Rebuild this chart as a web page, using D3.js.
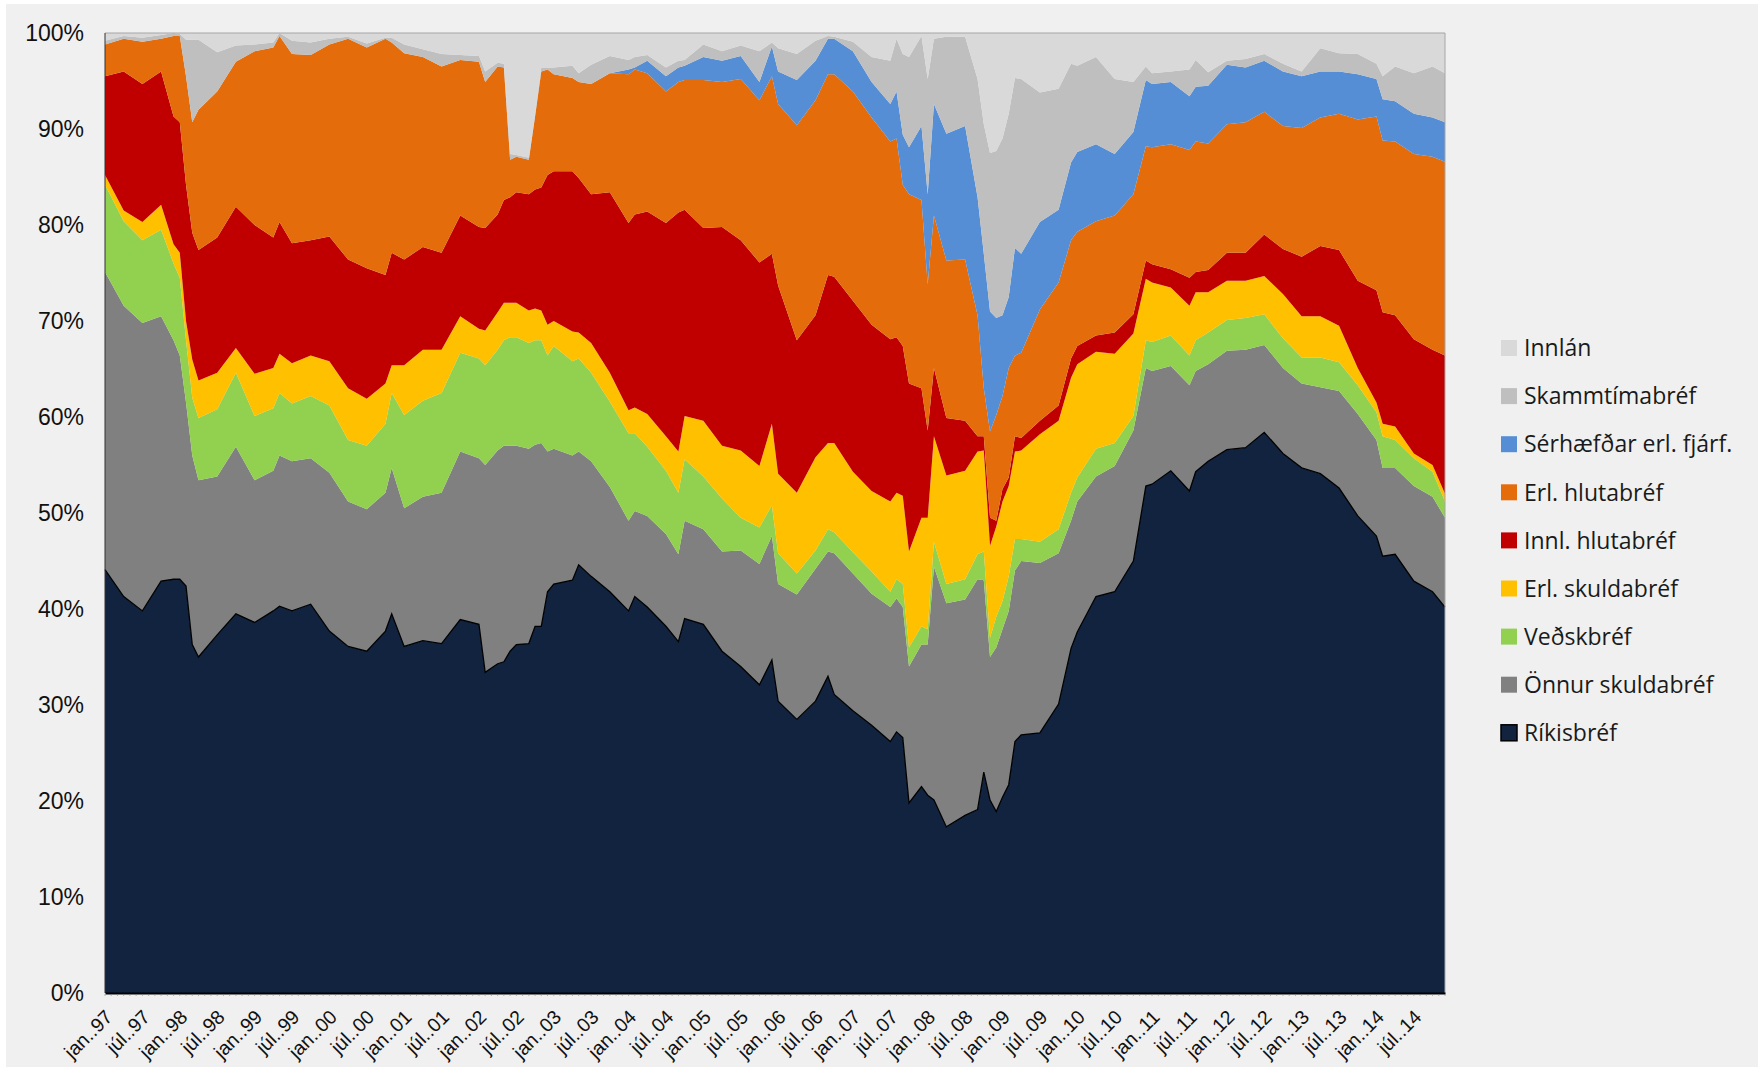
<!DOCTYPE html>
<html>
<head>
<meta charset="utf-8">
<script src="https://cdn.jsdelivr.net/npm/d3@7"></script>
<style>
  body { margin: 0; background: #fff; }
</style>
</head>
<body>
<svg id="chart" width="1762" height="1072"></svg>
<script>
// month of each reading (year-month)
var months = ["1997-01","1997-04","1997-07","1997-10","1997-12","1998-01","1998-02","1998-03","1998-04","1998-07",
  "1998-10","1999-01","1999-04","1999-05","1999-07","1999-10","2000-01","2000-04","2000-07","2000-10",
  "2000-11","2001-01","2001-04","2001-07","2001-10","2002-01","2002-02","2002-04","2002-05","2002-06",
  "2002-07","2002-09","2002-10","2002-11","2002-12","2003-01","2003-04","2003-05","2003-07","2003-10",
  "2004-01","2004-02","2004-04","2004-07","2004-09","2004-10","2005-01","2005-04","2005-07","2005-10",
  "2005-12","2006-01","2006-04","2006-07","2006-09","2006-10","2007-01","2007-04","2007-07","2007-08",
  "2007-09","2007-10","2007-12","2008-01","2008-02","2008-04","2008-07","2008-09","2008-10","2008-11",
  "2008-12","2009-01","2009-02","2009-03","2009-04","2009-07","2009-10","2009-12","2010-01","2010-04",
  "2010-07","2010-10","2010-12","2011-01","2011-04","2011-07","2011-08","2011-10","2012-01","2012-04",
  "2012-07","2012-10","2013-01","2013-04","2013-07","2013-10","2014-01","2014-02","2014-04","2014-07",
  "2014-10","2014-12"];

// shares in % (bottom to top of the stack)
var rikisbref = [44.1,41.3,39.8,42.9,43.1,43.1,42.4,36.3,35.0,37.3,
  39.5,38.6,39.8,40.3,39.8,40.5,37.7,36.1,35.6,37.7,
  39.5,36.1,36.7,36.4,38.9,38.4,33.4,34.3,34.5,35.6,
  36.3,36.4,38.2,38.2,41.8,42.6,43.0,44.6,43.4,41.8,
  39.8,41.3,40.2,38.2,36.6,39.0,38.4,35.6,34.0,32.1,
  34.7,30.4,28.5,30.4,33.0,31.1,29.4,27.9,26.2,27.2,
  26.6,19.8,21.5,20.6,20.1,17.3,18.5,19.1,23.0,20.1,
  18.9,20.4,21.7,26.2,26.9,27.1,30.1,35.9,37.6,41.3,
  41.8,45.0,52.8,53.0,54.4,52.3,54.3,55.4,56.6,56.8,
  58.4,56.2,54.7,54.1,52.6,49.7,47.6,45.5,45.7,42.9,
  41.8,40.2];
var onnurSkuldabref = [31.0,30.3,30.0,27.6,24.9,23.3,19.1,19.7,18.4,16.5,
  17.4,14.8,14.6,15.7,15.6,15.2,16.5,15.1,14.8,14.4,
  15.2,14.4,15.0,15.7,17.5,17.3,21.6,22.2,22.5,21.4,
  20.7,20.3,18.9,19.1,14.6,14.1,13.0,11.8,12.0,10.9,
  9.4,8.9,9.5,9.6,9.1,10.2,9.9,10.4,12.1,12.6,
  12.9,12.2,13.0,13.8,13.0,14.7,14.3,13.7,14.0,13.9,
  13.6,14.2,14.8,15.7,24.3,23.3,22.5,24.0,20.0,14.9,
  17.1,17.5,18.1,17.8,18.1,17.7,15.7,13.3,13.6,12.5,
  13.1,13.6,12.3,11.8,10.9,11.0,10.5,10.1,10.3,10.2,
  9.1,8.9,8.8,9.0,10.1,10.6,10.0,9.2,9.0,9.9,
  9.9,9.3];
var vedskbref = [9.1,8.8,8.6,9.0,8.0,8.1,6.5,6.0,6.5,7.0,
  7.7,6.7,6.5,6.5,6.0,6.5,7.0,6.4,6.6,7.2,
  7.8,9.7,10.0,10.4,10.3,10.4,10.4,10.5,11.0,11.3,
  11.3,11.0,10.9,10.7,10.0,10.7,9.8,9.7,9.2,8.9,
  9.1,8.1,7.2,6.6,6.4,6.4,5.5,5.5,3.4,3.8,
  3.2,3.2,2.2,1.9,2.3,2.2,2.2,2.3,1.6,2.0,
  2.4,2.0,1.9,1.6,2.6,2.0,2.1,2.6,3.0,2.0,
  3.2,2.9,3.6,3.3,2.3,2.2,2.5,2.9,2.5,2.9,
  2.4,1.5,2.9,3.0,3.2,3.1,3.2,3.3,3.2,3.3,
  3.2,3.1,2.7,3.1,3.0,3.0,2.9,3.3,2.9,2.9,
  2.6,1.7];
var erlSkuldabref = [1.0,1.1,1.9,2.6,2.0,2.6,2.0,4.0,3.9,3.8,
  2.6,4.4,4.2,4.1,4.2,4.2,4.6,5.4,4.9,4.2,
  2.9,5.2,5.3,4.5,3.8,3.1,3.6,3.9,3.9,3.6,
  3.6,3.4,3.3,3.1,3.2,2.6,3.1,2.7,3.1,3.0,
  2.4,2.7,3.4,3.6,4.3,4.5,5.8,5.5,7.0,6.4,
  8.5,8.3,8.4,9.7,9.0,9.3,8.4,8.4,9.4,9.0,
  9.2,10.0,11.3,11.6,11.0,11.3,11.3,10.7,10.5,9.6,
  9.4,10.4,9.4,9.1,9.2,11.2,11.3,12.0,11.8,10.1,
  9.3,8.6,6.4,6.2,5.0,5.2,5.0,4.2,4.1,3.9,
  4.0,4.6,4.3,4.3,3.8,1.8,1.0,1.3,1.4,0.5,
  0.7,0.8];
var innlHlutabref = [10.3,14.5,14.4,13.9,13.3,13.6,14.2,13.2,13.6,14.1,
  14.7,15.5,13.6,13.7,12.5,12.0,13.0,13.4,13.6,11.3,
  11.7,11.0,10.7,10.1,10.5,10.6,10.7,10.2,10.7,11.0,
  11.5,12.1,12.4,12.8,15.6,15.6,16.7,16.1,15.5,18.8,
  19.5,20.1,21.1,22.2,24.9,21.5,20.1,22.8,21.9,21.2,
  17.7,19.6,15.9,14.8,17.5,17.3,17.8,17.3,16.9,16.2,
  15.6,17.5,13.5,9.1,7.1,6.0,5.2,1.6,1.5,2.9,
  0.6,1.3,0.9,1.6,1.3,1.4,1.6,2.0,1.9,1.7,
  2.2,2.0,1.9,1.9,1.9,2.9,2.1,2.3,2.9,2.9,
  4.3,4.7,6.2,7.3,7.9,9.1,11.7,11.6,11.6,11.9,
  12.0,14.4];
var erlHlutabref = [3.3,3.4,4.4,3.4,8.4,9.0,11.3,11.5,14.6,15.2,
  15.1,18.1,19.8,19.4,19.7,19.3,20.0,23.0,23.0,24.6,
  21.9,21.5,19.8,19.4,16.2,17.2,15.2,15.4,13.8,3.9,
  3.7,3.6,7.6,12.1,11.0,10.1,9.7,10.0,11.5,12.4,
  15.5,15.1,14.4,13.7,13.6,13.5,15.4,15.1,16.8,16.9,
  18.5,18.9,22.4,22.4,20.9,21.1,21.8,21.6,20.6,20.7,
  16.8,19.7,19.6,15.2,15.9,16.4,16.8,12.6,5.0,9.0,
  11.0,9.7,11.4,8.4,8.9,11.6,12.8,12.3,11.9,11.9,
  12.2,12.5,11.9,12.2,13.0,13.3,13.6,13.2,13.4,13.6,
  12.8,12.8,13.4,13.4,14.2,16.8,18.1,17.9,18.1,19.3,
  20.1,20.2];
var serhaefdar = [0,0,0,0,0,0,0,0,0,0,
  0,0,0,0,0,0,0,0,0,0,
  0,0,0,0,0,0,0,0,0,0,
  0,0,0,0,0,0,0,0,0,0,
  0.5,0.2,1.3,1.6,1.5,1.5,2.4,2.2,2.4,1.9,
  3.1,3.4,4.7,4.1,3.7,3.7,4.2,3.7,3.9,4.9,
  5.2,4.9,7.7,9.4,11.6,13.2,13.9,12.3,14.0,12.5,
  10.1,8.4,7.4,11.2,10.3,9.1,7.6,8.1,8.3,8.0,
  6.4,6.5,6.9,6.6,6.5,5.6,5.7,6.0,6.2,5.7,
  5.3,5.7,5.4,4.8,4.4,4.7,3.9,4.3,4.2,4.2,
  4.1,4.1];
var skammtimabref = [0.4,0.3,0.4,0.4,0.3,0.2,3.8,8.6,7.3,4.1,
  1.7,0.7,0.5,0.3,1.4,1.3,0.6,0.2,0.4,0.1,
  0.5,0.9,0.8,1.3,0.5,0.6,1.1,0.4,0.4,0.6,
  0.2,0.2,0.2,0.4,0.2,0.7,1.3,0.9,2.0,1.8,
  1.0,1.1,0.6,0.9,0.7,0.6,1.3,1.0,1.1,3.2,
  0.4,2.4,2.7,2.1,0.3,0.2,1.0,2.6,4.5,5.5,
  8.4,9.4,9.4,12.0,6.8,10.1,9.3,12.3,13.5,16.5,
  17.4,18.4,19.1,17.7,18.2,13.5,12.6,10.3,9.0,9.1,
  7.8,5.2,1.4,1.1,1.1,2.8,2.8,1.4,0.4,0.9,
  0.7,0.8,0.5,2.4,1.9,2.1,1.6,2.4,3.6,4.2,
  5.3,5.1];
var innlan = [0.8,0.3,0.5,0.2,0,0.1,0.7,0.7,0.7,2.0,
  1.3,1.2,1.0,0,0.8,1.0,0.6,0.4,1.1,0.5,
  0.5,1.2,1.7,2.2,2.3,2.4,4.0,3.1,3.2,12.6,
  12.7,13.0,8.5,3.6,3.6,3.6,3.4,4.2,3.3,2.4,
  2.8,2.5,2.3,3.6,2.9,2.8,1.2,1.9,1.3,1.9,
  1.0,1.6,2.2,0.8,0.3,0.4,0.9,2.5,2.9,0.6,
  2.2,2.5,0.3,4.8,0.6,0.4,0.4,4.8,9.5,12.5,
  12.3,11.0,8.4,4.7,4.8,6.2,5.8,3.2,3.4,2.5,
  4.8,5.1,3.5,4.2,4.0,3.8,2.8,4.1,2.9,2.7,
  2.2,3.2,4.0,1.6,2.1,2.2,3.2,4.5,3.5,4.2,
  3.5,4.2];

var seriesNames = ["Ríkisbréf","Önnur skuldabréf","Veðskbréf","Erl. skuldabréf","Innl. hlutabréf",
  "Erl. hlutabréf","Sérhæfðar erl. fjárf.","Skammtímabréf","Innlán"];
var seriesValues = [rikisbref,onnurSkuldabref,vedskbref,erlSkuldabref,innlHlutabref,
  erlHlutabref,serhaefdar,skammtimabref,innlan];
var seriesColors = ["#11233e","#808080","#92d050","#ffc000","#c00000","#e46c0a","#558ed5","#bfbfbf","#d9d9d9"];
var monthNames = ["jan","feb","mar","apr","maí","jún","júl","ágú","sep","okt","nóv","des"];
var yTicks = [0,0.1,0.2,0.3,0.4,0.5,0.6,0.7,0.8,0.9,1];

var plotLeft = 105, plotRight = 1445, plotTop = 33, plotBottom = 993;

var svg = d3.select("#chart");
svg.append("rect").attr("x",6).attr("y",4).attr("width",1752).attr("height",1063).attr("fill","#f0f0f0");

function monthIndex(s) {
  var p = s.split("-");
  return (+p[0] - 1997) * 12 + (+p[1] - 1);
}

var rows = months.map(function(m, i) {
  var r = {t: monthIndex(m)};
  seriesNames.forEach(function(n, j) { r[n] = seriesValues[j][i]; });
  return r;
});

var x = d3.scaleLinear().domain([0, 215]).range([plotLeft, plotRight]);
var y = d3.scaleLinear().domain([0, 1]).range([plotBottom, plotTop]);

var stack = d3.stack().keys(seriesNames).offset(d3.stackOffsetExpand);
var layers = stack(rows);

var area = d3.area()
  .x(function(d) { return x(d.data.t); })
  .y0(function(d) { return y(d[0]); })
  .y1(function(d) { return y(d[1]); });

svg.append("g").selectAll("path")
  .data(layers)
  .enter().append("path")
  .attr("d", area)
  .attr("fill", function(d, i) { return seriesColors[i]; });

// outline on top of Ríkisbréf
var topLine = d3.line()
  .x(function(d) { return x(d.data.t); })
  .y(function(d) { return y(d[1]); });
svg.append("path").attr("d", topLine(layers[0]))
  .attr("fill","none").attr("stroke","#000").attr("stroke-width",1.3);

// frame
svg.append("line").attr("x1",plotLeft).attr("x2",plotRight).attr("y1",plotTop).attr("y2",plotTop).attr("stroke","#a6a6a6");
svg.append("line").attr("x1",plotRight).attr("x2",plotRight).attr("y1",plotTop).attr("y2",plotBottom).attr("stroke","#a6a6a6");
svg.append("line").attr("x1",plotLeft).attr("x2",plotLeft).attr("y1",plotTop).attr("y2",plotBottom).attr("stroke","#333");

// y axis labels
svg.append("g").selectAll("text")
  .data(yTicks)
  .enter().append("text")
  .attr("x", 84)
  .attr("y", function(d) { return y(d); })
  .attr("dy", "0.35em")
  .attr("text-anchor", "end")
  .attr("font-family", "'Liberation Sans', Arial, sans-serif")
  .attr("font-size", 23)
  .attr("fill", "#111")
  .text(function(d) { return Math.round(d * 100) + "%"; });

// x axis
var xAxis = d3.axisBottom(x)
  .tickValues(d3.range(0, 216, 6))
  .tickSize(0)
  .tickFormat(function(t) {
    var yy = String(1997 + Math.floor(t / 12)).slice(2);
    return monthNames[t % 12] + ".." + yy;
  });
var gx = svg.append("g").attr("transform", "translate(0," + plotBottom + ")").call(xAxis);
gx.select(".domain").attr("stroke", "#000").attr("stroke-width", 2);
gx.selectAll("text")
  .attr("font-family", "'Liberation Sans', Arial, sans-serif")
  .attr("font-size", 19.5)
  .attr("fill", "#111")
  .attr("text-anchor", "end")
  .attr("dy", "0.6em")
  .attr("y", 0)
  .attr("transform", "translate(0,17) rotate(-45)");

// small monthly marks under the axis
svg.append("g").selectAll("line")
  .data(d3.range(0, 216))
  .enter().append("line")
  .attr("x1", function(d) { return x(d); })
  .attr("x2", function(d) { return x(d); })
  .attr("y1", plotBottom + 1).attr("y2", plotBottom + 3)
  .attr("stroke", "#888").attr("stroke-width", 0.6);

// legend, top item is the top of the stack
var legendOrder = d3.range(seriesNames.length).reverse();
var lg = svg.append("g").selectAll("g")
  .data(legendOrder)
  .enter().append("g")
  .attr("transform", function(d, i) { return "translate(1501," + (348 + i * 48.1) + ")"; });
lg.append("rect")
  .attr("x", 0).attr("y", -8).attr("width", 16).attr("height", 16)
  .attr("fill", function(d) { return seriesColors[d]; })
  .attr("stroke", function(d) { return d === 0 ? "#000" : "none"; })
  .attr("stroke-width", 1.5);
lg.append("text")
  .attr("x", 23).attr("y", 0).attr("dy", "0.36em")
  .attr("font-family", "'Open Sans', 'Noto Sans', sans-serif")
  .attr("font-size", 23)
  .attr("fill", "#1a1a1a")
  .text(function(d) { return seriesNames[d]; });
</script>
</body>
</html>
